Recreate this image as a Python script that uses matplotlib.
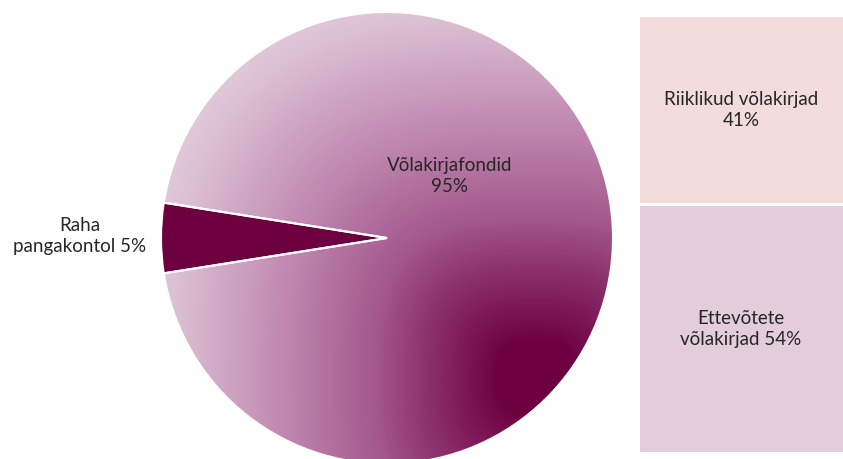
import numpy as np
import matplotlib.pyplot as plt
from matplotlib.colors import LinearSegmentedColormap
from matplotlib.patches import Rectangle

# pie data
pie_labels = ["Raha\npangakontol 5%", "Võlakirjafondid\n95%"]
pie_values = [5, 95]
# breakdown of bond funds
box_labels = ["Riiklikud võlakirjad\n41%", "Ettevõtete\nvõlakirjad 54%"]
box_values = [41, 54]
box_colors = ["#f2dcdc", "#e3cdda"]

W, H = 843, 459
plt.rcParams['font.family'] = ['Lato', 'DejaVu Sans']

fig = plt.figure(figsize=(W / 100, H / 100), dpi=100)
ax = fig.add_axes([0, 0, 1, 1])

cx, cy, r = 387, H - 238, 226
wedges, _ = ax.pie(pie_values, startangle=171, radius=r, center=(cx, cy),
                   colors=["#6d003f", "none"],
                   wedgeprops=dict(edgecolor="white", linewidth=1.5))

# path-style gradient for the big slice, darkest toward bottom-right
xs = np.arange(W) + 0.5
ys = np.arange(H) + 0.5
X, Y = np.meshgrid(xs, ys)
p = 3
d = (np.abs(X - 535) ** p + np.abs((H - Y) - 378) ** p) ** (1 / p)
t = np.clip(d / 420, 0, 1)
cmap = LinearSegmentedColormap.from_list(
    "grad", [(0, "#6d003f"), (0.08, "#6d003f"), (0.25, "#8a2f6a"),
             (0.38, "#a3588c"), (0.6, "#c088b0"), (0.86, "#dcc0d4"),
             (1, "#e6d4e0")])
img = ax.imshow(t, cmap=cmap, extent=(0, W, 0, H), origin="lower",
                vmin=0, vmax=1, zorder=0.5)
img.set_clip_path(wedges[1])
wedges[1].set_zorder(1)

fs = 13.5
ax.text(80, H - 236, pie_labels[0], ha="center", va="center",
        fontsize=fs, color="#262626", linespacing=1.3)
ax.text(450, H - 176, pie_labels[1], ha="center", va="center",
        fontsize=fs, color="#262626", linespacing=1.3)

# stacked boxes on the right
top = 17
gap = 3
scale = (452 - top - gap) / sum(box_values)
y = top
for lab, v, c in zip(box_labels, box_values, box_colors):
    h = v * scale
    ax.add_patch(Rectangle((640, H - y - h), 203, h, facecolor=c, edgecolor="none"))
    ax.text(741, H - y - h / 2, lab, ha="center", va="center",
            fontsize=fs, color="#262626", linespacing=1.3)
    y += h + gap

ax.set_xlim(0, W)
ax.set_ylim(0, H)
ax.set_aspect("auto")
ax.axis("off")

fig.savefig("out.png", dpi=100)
